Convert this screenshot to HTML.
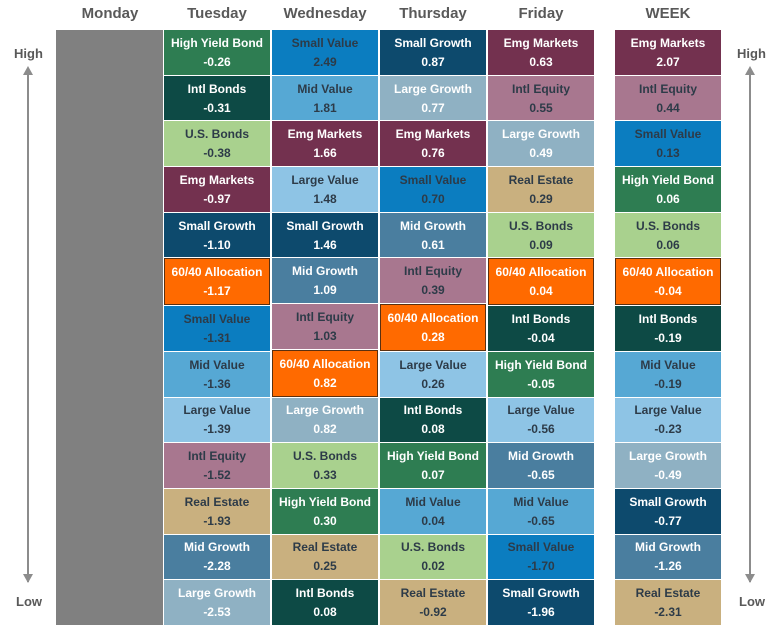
<!DOCTYPE html>
<html><head><meta charset="utf-8"><style>
body{margin:0;width:780px;height:625px;background:#fff;position:relative;overflow:hidden;font-family:"Liberation Sans",sans-serif}
.h{position:absolute;top:5px;font-weight:bold;font-size:15px;color:#595959;width:110px;text-align:center;margin-left:-55px}
.col{position:absolute;top:30px;width:106px;height:595px;display:flex;flex-direction:column;gap:1px}
.c{flex:1;display:flex;flex-direction:column;justify-content:center;align-items:center;font-weight:bold;font-size:12px;line-height:19px;color:#fff;box-sizing:border-box;padding-top:1px}
.d{color:#2d3b48}
.hy{background:#2e7d52}.ib{background:#0d4a45}.us{background:#a9d18e}.em{background:#73314f}.sg{background:#0d4a6d}
.al{background:#ff6a00;border:1px solid #5a3010}.sv{background:#0b7dc0}.mv{background:#56a8d4}.lv{background:#8ec4e5}
.ie{background:#a8778f}.re{background:#c9b07f}.mg{background:#4a7e9f}.lg{background:#8fb1c3}
.lbl{position:absolute;font-weight:bold;font-size:13px;color:#595959}
.ax{position:absolute;width:2px;background:#8c8c8c}
</style></head><body>
<div class="h" style="left:110px">Monday</div>
<div class="h" style="left:217px">Tuesday</div>
<div class="h" style="left:325px">Wednesday</div>
<div class="h" style="left:433px">Thursday</div>
<div class="h" style="left:541px">Friday</div>
<div class="h" style="left:668px">WEEK</div>
<div style="position:absolute;left:56px;top:30px;width:107px;height:595px;background:#808080"></div>

<div class="lbl" style="left:14px;top:46px">High</div>
<div class="lbl" style="left:16px;top:594px">Low</div>
<div class="ax" style="left:27px;top:72px;height:510px"></div>
<div style="position:absolute;left:23px;top:66px;border-left:5px solid transparent;border-right:5px solid transparent;border-bottom:9px solid #8c8c8c"></div>
<div style="position:absolute;left:23px;top:574px;border-left:5px solid transparent;border-right:5px solid transparent;border-top:9px solid #8c8c8c"></div>
<div class="lbl" style="left:737px;top:46px">High</div>
<div class="lbl" style="left:739px;top:594px">Low</div>
<div class="ax" style="left:749px;top:72px;height:510px"></div>
<div style="position:absolute;left:745px;top:66px;border-left:5px solid transparent;border-right:5px solid transparent;border-bottom:9px solid #8c8c8c"></div>
<div style="position:absolute;left:745px;top:574px;border-left:5px solid transparent;border-right:5px solid transparent;border-top:9px solid #8c8c8c"></div>

<div class="col" style="left:164px">
<div class="c hy">High Yield Bond<span>-0.26</span></div>
<div class="c ib">Intl Bonds<span>-0.31</span></div>
<div class="c us d">U.S. Bonds<span>-0.38</span></div>
<div class="c em">Emg Markets<span>-0.97</span></div>
<div class="c sg">Small Growth<span>-1.10</span></div>
<div class="c al">60/40 Allocation<span>-1.17</span></div>
<div class="c sv d">Small Value<span>-1.31</span></div>
<div class="c mv d">Mid Value<span>-1.36</span></div>
<div class="c lv d">Large Value<span>-1.39</span></div>
<div class="c ie d">Intl Equity<span>-1.52</span></div>
<div class="c re d">Real Estate<span>-1.93</span></div>
<div class="c mg">Mid Growth<span>-2.28</span></div>
<div class="c lg">Large Growth<span>-2.53</span></div>
</div>
<div class="col" style="left:272px">
<div class="c sv d">Small Value<span>2.49</span></div>
<div class="c mv d">Mid Value<span>1.81</span></div>
<div class="c em">Emg Markets<span>1.66</span></div>
<div class="c lv d">Large Value<span>1.48</span></div>
<div class="c sg">Small Growth<span>1.46</span></div>
<div class="c mg">Mid Growth<span>1.09</span></div>
<div class="c ie d">Intl Equity<span>1.03</span></div>
<div class="c al">60/40 Allocation<span>0.82</span></div>
<div class="c lg">Large Growth<span>0.82</span></div>
<div class="c us d">U.S. Bonds<span>0.33</span></div>
<div class="c hy">High Yield Bond<span>0.30</span></div>
<div class="c re d">Real Estate<span>0.25</span></div>
<div class="c ib">Intl Bonds<span>0.08</span></div>
</div>
<div class="col" style="left:380px">
<div class="c sg">Small Growth<span>0.87</span></div>
<div class="c lg">Large Growth<span>0.77</span></div>
<div class="c em">Emg Markets<span>0.76</span></div>
<div class="c sv d">Small Value<span>0.70</span></div>
<div class="c mg">Mid Growth<span>0.61</span></div>
<div class="c ie d">Intl Equity<span>0.39</span></div>
<div class="c al">60/40 Allocation<span>0.28</span></div>
<div class="c lv d">Large Value<span>0.26</span></div>
<div class="c ib">Intl Bonds<span>0.08</span></div>
<div class="c hy">High Yield Bond<span>0.07</span></div>
<div class="c mv d">Mid Value<span>0.04</span></div>
<div class="c us d">U.S. Bonds<span>0.02</span></div>
<div class="c re d">Real Estate<span>-0.92</span></div>
</div>
<div class="col" style="left:488px">
<div class="c em">Emg Markets<span>0.63</span></div>
<div class="c ie d">Intl Equity<span>0.55</span></div>
<div class="c lg">Large Growth<span>0.49</span></div>
<div class="c re d">Real Estate<span>0.29</span></div>
<div class="c us d">U.S. Bonds<span>0.09</span></div>
<div class="c al">60/40 Allocation<span>0.04</span></div>
<div class="c ib">Intl Bonds<span>-0.04</span></div>
<div class="c hy">High Yield Bond<span>-0.05</span></div>
<div class="c lv d">Large Value<span>-0.56</span></div>
<div class="c mg">Mid Growth<span>-0.65</span></div>
<div class="c mv d">Mid Value<span>-0.65</span></div>
<div class="c sv d">Small Value<span>-1.70</span></div>
<div class="c sg">Small Growth<span>-1.96</span></div>
</div>
<div class="col" style="left:615px">
<div class="c em">Emg Markets<span>2.07</span></div>
<div class="c ie d">Intl Equity<span>0.44</span></div>
<div class="c sv d">Small Value<span>0.13</span></div>
<div class="c hy">High Yield Bond<span>0.06</span></div>
<div class="c us d">U.S. Bonds<span>0.06</span></div>
<div class="c al">60/40 Allocation<span>-0.04</span></div>
<div class="c ib">Intl Bonds<span>-0.19</span></div>
<div class="c mv d">Mid Value<span>-0.19</span></div>
<div class="c lv d">Large Value<span>-0.23</span></div>
<div class="c lg">Large Growth<span>-0.49</span></div>
<div class="c sg">Small Growth<span>-0.77</span></div>
<div class="c mg">Mid Growth<span>-1.26</span></div>
<div class="c re d">Real Estate<span>-2.31</span></div>
</div>
</body></html>
